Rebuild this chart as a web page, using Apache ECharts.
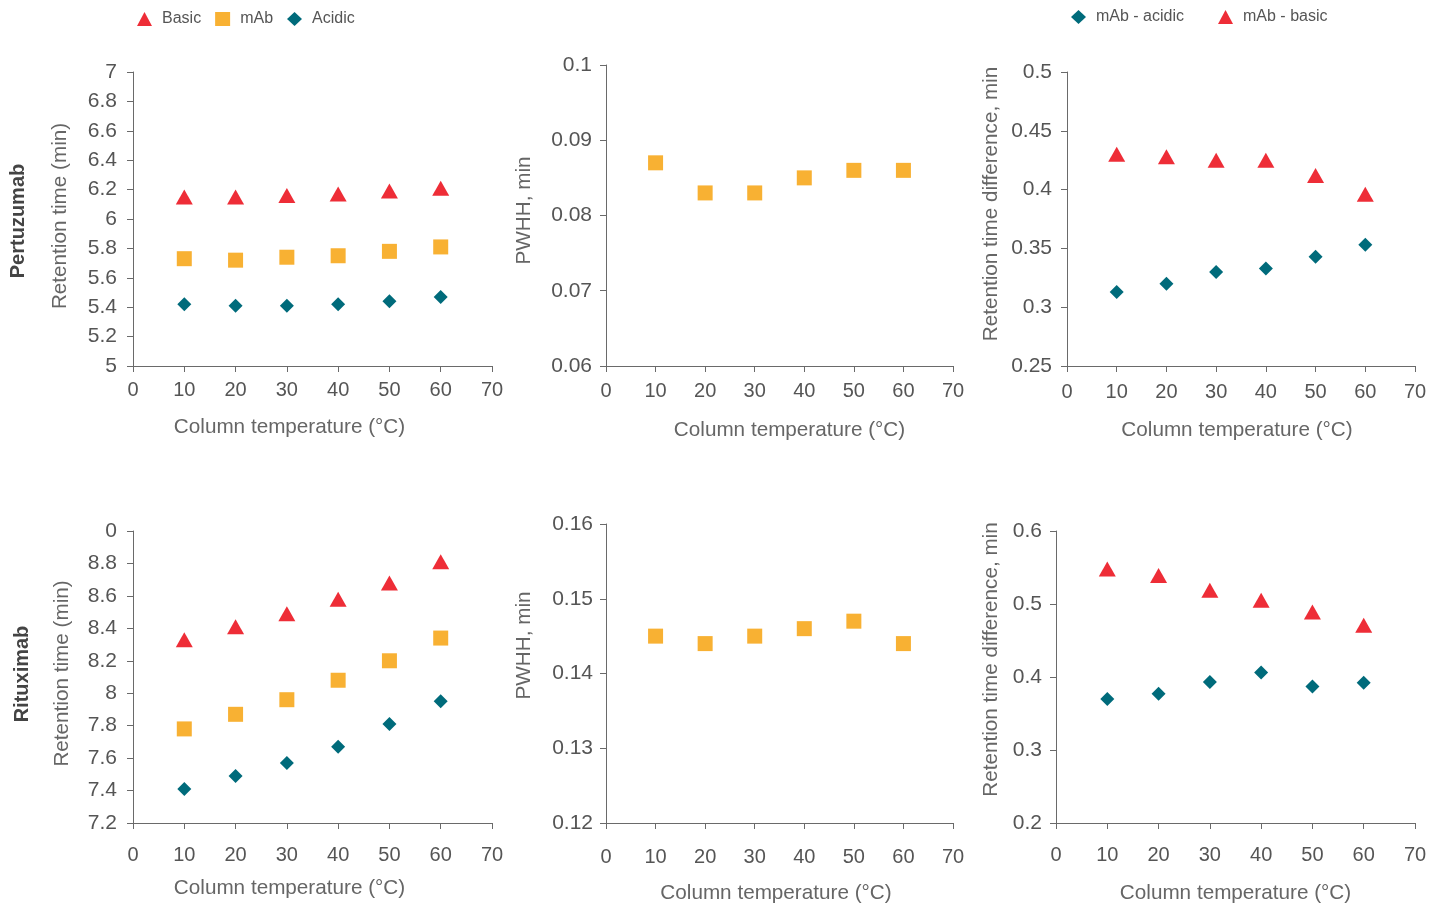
<!DOCTYPE html>
<html>
<head>
<meta charset="utf-8">
<script src="https://cdn.jsdelivr.net/npm/echarts@6/dist/echarts.min.js"></script>
<style>
html,body{margin:0;padding:0;background:#fff;}
#chart{width:1447px;height:907px;}
</style>
</head>
<body>
<div id="chart"></div>
<script>
// ---------- DATA ----------
var temps = [10, 20, 30, 40, 50, 60];
var xTickLabels = ['0', '10', '20', '30', '40', '50', '60', '70'];

// Pertuzumab
var pertBasic  = [6.15, 6.15, 6.16, 6.17, 6.19, 6.21];
var pertMab    = [5.73, 5.72, 5.74, 5.75, 5.78, 5.81];
var pertAcidic = [5.42, 5.41, 5.41, 5.42, 5.44, 5.47];
var pertPwhh   = [0.087, 0.083, 0.083, 0.085, 0.086, 0.086];
var pertDiffAcidic = [0.313, 0.320, 0.330, 0.333, 0.343, 0.353];
var pertDiffBasic  = [0.430, 0.428, 0.425, 0.425, 0.412, 0.396];

// Rituximab
var ritBasic  = [8.33, 8.41, 8.49, 8.58, 8.68, 8.81];
var ritMab    = [7.78, 7.87, 7.96, 8.08, 8.20, 8.34];
var ritAcidic = [7.41, 7.49, 7.57, 7.67, 7.81, 7.95];
var ritPwhh   = [0.145, 0.144, 0.145, 0.146, 0.147, 0.144];
var ritDiffAcidic = [0.370, 0.377, 0.393, 0.406, 0.387, 0.392];
var ritDiffBasic  = [0.548, 0.539, 0.519, 0.505, 0.489, 0.471];

// tick labels for y axes
var yTicks1 = ['5', '5.2', '5.4', '5.6', '5.8', '6', '6.2', '6.4', '6.6', '6.8', '7'];
var yTicks2 = ['0.06', '0.07', '0.08', '0.09', '0.1'];
var yTicks3 = ['0.25', '0.3', '0.35', '0.4', '0.45', '0.5'];
var yTicks4 = ['7.2', '7.4', '7.6', '7.8', '8', '8.2', '8.4', '8.6', '8.8', '0'];
var yTicks5 = ['0.12', '0.13', '0.14', '0.15', '0.16'];
var yTicks6 = ['0.2', '0.3', '0.4', '0.5', '0.6'];

var rowTitles = ['Pertuzumab', 'Rituximab'];
var xTitle = 'Column temperature (°C)';
var yTitles = ['Retention time (min)', 'PWHH, min', 'Retention time difference, min'];

// ---------- STYLE ----------
var FONT = "'Liberation Sans', Arial, Helvetica, sans-serif";
var RED = '#EE2D37', ORANGE = '#F8B133', TEAL = '#006B7B';
var AXIS = '#6a6a6a', LABEL = '#555555', TITLE = '#666666';
var TITLE_SIZE = 20.7;

function pairs(vals) { return temps.map(function (t, i) { return [t, vals[i]]; }); }

var grids = [
  {left: 133, top: 72,  width: 359, height: 294},
  {left: 606, top: 65,  width: 347, height: 301},
  {left: 1067, top: 72, width: 348, height: 294},
  {left: 133, top: 531, width: 359, height: 292},
  {left: 606, top: 524, width: 347, height: 299},
  {left: 1056, top: 531, width: 359, height: 292}
];

var xCfg = [
  {labelMargin: 14, nameGap: 51, pad: [0, 46, 0, 0]},
  {labelMargin: 15, nameGap: 54, pad: [0, 0, 0, 20]},
  {labelMargin: 16, nameGap: 54, pad: [0, 8, 0, 0]},
  {labelMargin: 22, nameGap: 55, pad: [0, 46, 0, 0]},
  {labelMargin: 24, nameGap: 60, pad: [0, 7, 0, 0]},
  {labelMargin: 22, nameGap: 60, pad: [0, 0, 0, 0]}
];

function makeX(i) {
  var c = xCfg[i];
  return {
    type: 'value', gridIndex: i, min: 0, max: 70, interval: 10,
    name: xTitle, nameLocation: 'middle', nameGap: c.nameGap,
    nameTextStyle: {fontFamily: FONT, fontSize: TITLE_SIZE, color: TITLE, padding: c.pad},
    axisLine: {show: true, lineStyle: {color: AXIS, width: 1}},
    axisTick: {show: true, length: 6, lineStyle: {color: AXIS}},
    splitLine: {show: false},
    axisLabel: {
      fontFamily: FONT, fontSize: 20, color: LABEL, margin: c.labelMargin,
      formatter: function (v) { return xTickLabels[Math.round(v / 10)]; }
    }
  };
}

var yCfg = [
  {min: 5, max: 7, interval: 0.2, ticks: yTicks1, name: yTitles[0], gap: 62, margin: 16, pad: [0, 0, 0, 6]},
  {min: 0.06, max: 0.1, interval: 0.01, ticks: yTicks2, name: yTitles[1], gap: 71, margin: 14, pad: [0, 0, 0, 10]},
  {min: 0.25, max: 0.5, interval: 0.05, ticks: yTicks3, name: yTitles[2], gap: 65, margin: 15, pad: [0, 0, 0, 30]},
  {min: 7.2, max: 9, interval: 0.2, ticks: yTicks4, name: yTitles[0], gap: 60, margin: 16, pad: [0, 0, 0, 7]},
  {min: 0.12, max: 0.16, interval: 0.01, ticks: yTicks5, name: yTitles[1], gap: 71, margin: 13, pad: [0, 0, 0, 56]},
  {min: 0.2, max: 0.6, interval: 0.1, ticks: yTicks6, name: yTitles[2], gap: 54, margin: 14, pad: [0, 0, 0, 35]}
];

function makeY(i) {
  var c = yCfg[i];
  return {
    type: 'value', gridIndex: i, min: c.min, max: c.max, interval: c.interval,
    name: c.name, nameLocation: 'middle', nameGap: c.gap,
    nameTextStyle: {fontFamily: FONT, fontSize: TITLE_SIZE, color: TITLE, padding: c.pad},
    axisLine: {show: true, lineStyle: {color: AXIS, width: 1}},
    axisTick: {show: true, length: 6, lineStyle: {color: AXIS}},
    splitLine: {show: false},
    axisLabel: {
      fontFamily: FONT, fontSize: 21, color: LABEL, margin: c.margin,
      formatter: function (v) {
        var idx = Math.round((v - c.min) / c.interval);
        return c.ticks[idx];
      }
    }
  };
}

function sc(name, gi, vals, symbol, size, color) {
  return {
    type: 'scatter', name: name, xAxisIndex: gi, yAxisIndex: gi,
    data: pairs(vals), symbol: symbol, symbolSize: size,
    itemStyle: {color: color, opacity: 1},
    emphasis: {disabled: true}, z: 3
  };
}

var TRI = [17, 15], SQ = 15, DIA = 14;

var option = {
  backgroundColor: '#ffffff',
  animation: false,
  legend: [
    {
      left: 132, top: 6, itemWidth: 15, itemHeight: 14, itemGap: 14,
      data: [{name: 'Basic', icon: 'triangle'}, {name: 'mAb', icon: 'rect'}, {name: 'Acidic', icon: 'diamond'}],
      textStyle: {fontFamily: FONT, fontSize: 16, color: LABEL, padding: [0, 0, 0, 5]}
    },
    {
      left: 1066, top: 4, itemWidth: 15, itemHeight: 14, itemGap: 34,
      data: [{name: 'mAb - acidic', icon: 'diamond'}, {name: 'mAb - basic', icon: 'triangle'}],
      textStyle: {fontFamily: FONT, fontSize: 16, color: LABEL, padding: [0, 0, 0, 5]}
    }
  ],
  grid: grids,
  xAxis: [0, 1, 2, 3, 4, 5].map(makeX),
  yAxis: [0, 1, 2, 3, 4, 5].map(makeY),
  graphic: [
    {type: 'text', x: 18, y: 221, rotation: Math.PI / 2,
     style: {text: rowTitles[0], fontFamily: FONT, fontSize: 20, fontWeight: 'bold', fill: '#444', align: 'center', verticalAlign: 'middle'}},
    {type: 'text', x: 22, y: 674, rotation: Math.PI / 2,
     style: {text: rowTitles[1], fontFamily: FONT, fontSize: 20, fontWeight: 'bold', fill: '#444', align: 'center', verticalAlign: 'middle'}}
  ],
  series: [
    sc('Basic', 0, pertBasic, 'triangle', TRI, RED),
    sc('mAb', 0, pertMab, 'rect', SQ, ORANGE),
    sc('Acidic', 0, pertAcidic, 'diamond', DIA, TEAL),
    sc('mAb', 1, pertPwhh, 'rect', SQ, ORANGE),
    sc('mAb - acidic', 2, pertDiffAcidic, 'diamond', DIA, TEAL),
    sc('mAb - basic', 2, pertDiffBasic, 'triangle', TRI, RED),
    sc('Basic', 3, ritBasic, 'triangle', TRI, RED),
    sc('mAb', 3, ritMab, 'rect', SQ, ORANGE),
    sc('Acidic', 3, ritAcidic, 'diamond', DIA, TEAL),
    sc('mAb', 4, ritPwhh, 'rect', SQ, ORANGE),
    sc('mAb - acidic', 5, ritDiffAcidic, 'diamond', DIA, TEAL),
    sc('mAb - basic', 5, ritDiffBasic, 'triangle', TRI, RED)
  ]
};

var chart = echarts.init(document.getElementById('chart'), null, {renderer: 'canvas'});
chart.setOption(option);
</script>
</body>
</html>
